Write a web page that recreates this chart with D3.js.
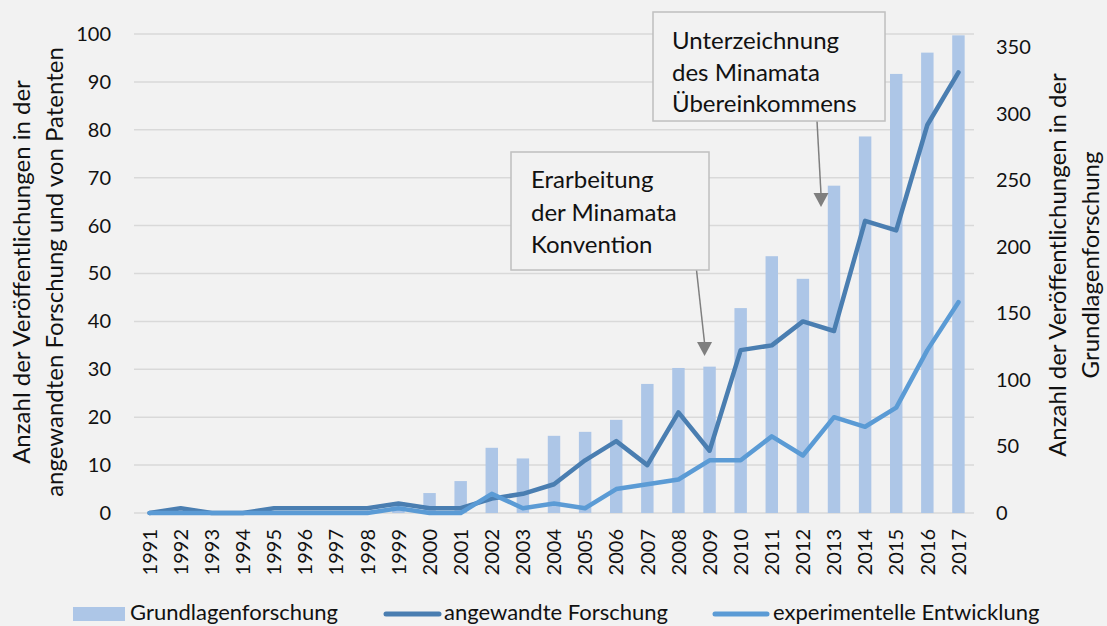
<!DOCTYPE html>
<html>
<head>
<meta charset="utf-8">
<script src="https://cdn.jsdelivr.net/npm/d3@7"></script>
<style>
html,body{margin:0;padding:0;background:#f2f2f2;}
svg{display:block;font-family:Lato,"Open Sans",sans-serif;}
</style>
</head>
<body>
<svg id="chart" width="1107" height="626"></svg>
<script>
const years = [1991,1992,1993,1994,1995,1996,1997,1998,1999,2000,2001,2002,2003,2004,2005,2006,2007,2008,2009,2010,2011,2012,2013,2014,2015,2016,2017];
const grundlagen = [0,0,0,0,0,0,0,0,8,15,24,49,41,58,61,70,97,109,110,154,193,176,246,283,330,346,359];
const angewandte = [0,1,0,0,1,1,1,1,2,1,1,3,4,6,11,15,10,21,13,34,35,40,38,61,59,81,92];
const experimentell = [0,0,0,0,0,0,0,0,1,0,0,4,1,2,1,5,6,7,11,11,16,12,20,18,22,34,44];
const leftTicks = [0,10,20,30,40,50,60,70,80,90,100];
const rightTicks = [0,50,100,150,200,250,300,350];
const seriesNames = ["Grundlagenforschung","angewandte Forschung","experimentelle Entwicklung"];
const leftTitle = ["Anzahl der Veröffentlichungen in der","angewandten Forschung und von Patenten"];
const rightTitle = ["Anzahl der Veröffentlichungen in der","Grundlagenforschung"];
const annotations = [
  {year:2009, lines:["Erarbeitung","der Minamata","Konvention"]},
  {year:2013, lines:["Unterzeichnung","des Minamata","Übereinkommens"]}
];

const C_BAR = "#adc6e7", C_DARK = "#4a7eb1", C_LIGHT = "#5b9bd5", C_GRID = "#d9d9d9";
const svg = d3.select("#chart");
const L = 134, R = 974, T = 34, B = 513;

const x = d3.scaleBand().domain(years).range([L, R]).paddingInner(0.6).paddingOuter(0.3);
const yL = d3.scaleLinear().domain([0,100]).range([B, T]);
const yR = d3.scaleLinear().domain([0,360]).range([B, T]);
const cx = d => x(d) + x.bandwidth()/2;

// gridlines
svg.append("g").selectAll("line").data(leftTicks).join("line")
  .attr("x1", L).attr("x2", R).attr("y1", d=>yL(d)).attr("y2", d=>yL(d))
  .attr("stroke", C_GRID).attr("stroke-width", 1.5);

// left axis
const gl = svg.append("g").attr("transform", `translate(${L},0)`)
  .call(d3.axisLeft(yL).tickValues(leftTicks).tickSize(0).tickPadding(23));
gl.select(".domain").remove();
gl.selectAll("text").attr("font-size", 20).attr("font-family","Lato").attr("fill","#111");

// right axis
const gr = svg.append("g").attr("transform", `translate(${R},0)`)
  .call(d3.axisRight(yR).tickValues(rightTicks).tickSize(0).tickPadding(22));
gr.select(".domain").remove();
gr.selectAll("text").attr("font-size", 20).attr("font-family","Lato").attr("fill","#111");

// x axis
const gx = svg.append("g").attr("transform", `translate(0,${B})`)
  .call(d3.axisBottom(x).tickSize(0).tickPadding(0));
gx.select(".domain").remove();
gx.selectAll("text").attr("font-size", 20).attr("font-family","Lato").attr("fill","#111")
  .attr("transform","rotate(-90)").attr("text-anchor","end")
  .attr("x", -16).attr("y", 0).attr("dy","0.36em");

// bars
svg.append("g").selectAll("rect").data(years).join("rect")
  .attr("x", d=>x(d)).attr("width", x.bandwidth())
  .attr("y", (d,i)=>yR(grundlagen[i])).attr("height", (d,i)=>B - yR(grundlagen[i]))
  .attr("fill", C_BAR);

// lines
const line = d3.line().x((d,i)=>cx(years[i])).y(d=>yL(d));
svg.append("path").datum(angewandte).attr("d", line).attr("fill","none")
  .attr("stroke", C_DARK).attr("stroke-width", 4.5).attr("stroke-linejoin","round").attr("stroke-linecap","round");
svg.append("path").datum(experimentell).attr("d", line).attr("fill","none")
  .attr("stroke", C_LIGHT).attr("stroke-width", 4.5).attr("stroke-linejoin","round").attr("stroke-linecap","round");

// axis titles
function vtitle(lines, xs, cy){
  lines.forEach((t,i)=>{
    svg.append("text").attr("transform", `translate(${xs[i]},${cy}) rotate(-90)`)
      .attr("text-anchor","middle").attr("dy","0.35em")
      .attr("font-size", 24).attr("font-family","Lato").attr("fill","#111").text(t);
  });
}
vtitle(leftTitle, [22, 55], 272);
vtitle(rightTitle, [1058, 1091], 265);

// annotations
const boxes = [
  {x:511, y:152, w:198, h:118, tx:531, base:[188,221,253], ax1:696.5, ay1:270, tipY:356, off:-5},
  {x:653, y:12, w:232, h:109, tx:672, base:[49,81,112], ax1:817, ay1:121, tipY:207, off:-13}
];
annotations.forEach((a,k)=>{
  const b = boxes[k];
  const tipX = cx(a.year) + b.off;
  svg.append("line").attr("x1", b.ax1).attr("y1", b.ay1).attr("x2", tipX).attr("y2", b.tipY - 13)
    .attr("stroke","#7f7f7f").attr("stroke-width",1.5);
  svg.append("path")
    .attr("d", `M${tipX-7.5},${b.tipY-14} L${tipX+7.5},${b.tipY-14} L${tipX},${b.tipY} Z`)
    .attr("fill","#7f7f7f");
  svg.append("rect").attr("x", b.x).attr("y", b.y).attr("width", b.w).attr("height", b.h)
    .attr("fill","#f2f2f2").attr("stroke","#bfbfbf").attr("stroke-width",1.5);
  a.lines.forEach((t,i)=>{
    svg.append("text").attr("x", b.tx).attr("y", b.base[i]).attr("font-size", 24)
      .attr("font-family","Lato").attr("fill","#111").text(t);
  });
});

// legend
const lg = svg.append("g");
lg.append("rect").attr("x",73).attr("y",607).attr("width",52).attr("height",14).attr("fill",C_BAR);
lg.append("text").attr("x",130).attr("y",620).attr("font-size",22).attr("fill","#111").text(seriesNames[0]);
lg.append("line").attr("x1",386).attr("x2",439).attr("y1",614).attr("y2",614).attr("stroke",C_DARK).attr("stroke-width",5).attr("stroke-linecap","round");
lg.append("text").attr("x",444).attr("y",620).attr("font-size",22).attr("fill","#111").text(seriesNames[1]);
lg.append("line").attr("x1",715).attr("x2",767).attr("y1",614).attr("y2",614).attr("stroke",C_LIGHT).attr("stroke-width",5).attr("stroke-linecap","round");
lg.append("text").attr("x",773).attr("y",620).attr("font-size",22).attr("fill","#111").text(seriesNames[2]);
</script>
</body>
</html>
